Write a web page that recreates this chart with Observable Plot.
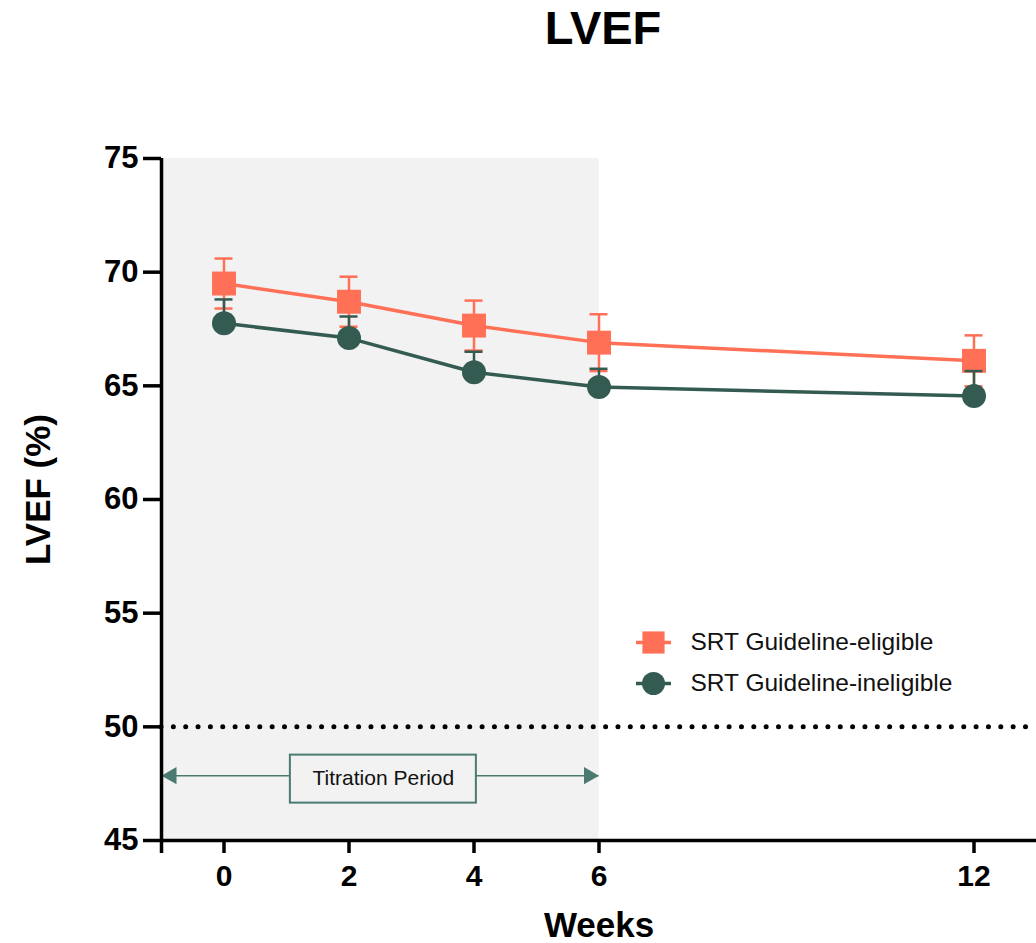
<!DOCTYPE html>
<html>
<head>
<meta charset="utf-8">
<script src="https://cdn.jsdelivr.net/npm/d3@7"></script>
<script src="https://cdn.jsdelivr.net/npm/@observablehq/plot@0.6"></script>
<style>
  html, body { margin: 0; padding: 0; background: #fff; }
  #chart { width: 1036px; height: 943px; }
</style>
</head>
<body>
<div id="chart"></div>
<script>
// ---- data ----
const weeks = [0, 2, 4, 6, 12];
const eligibleMean = [69.5, 68.7, 67.65, 66.9, 66.1];
const eligibleSE = [1.1, 1.1, 1.1, 1.25, 1.12];
const ineligibleMean = [67.75, 67.1, 65.6, 64.95, 64.55];
const ineligibleSE = [1.05, 0.95, 0.9, 0.8, 1.1];
const seriesNames = ["SRT Guideline-eligible", "SRT Guideline-ineligible"];
const yTicks = [45, 50, 55, 60, 65, 70, 75];
const xTicks = [-1, 0, 2, 4, 6, 12];
const thresholdLVEF = [50];
const titrationWeeks = [-1, 6];
const titrationLabel = "Titration Period";
const titrationLabelPos = [{x: 2.55, y: 47.7}];
const titrationArrowY = 47.85;

const ORANGE = "#ff7056";
const GREEN = "#345b51";
const ARROW = "#4b7a71";

const eligible = weeks.map((w, i) => ({week: w, mean: eligibleMean[i], se: eligibleSE[i]}));
const ineligible = weeks.map((w, i) => ({week: w, mean: ineligibleMean[i], se: ineligibleSE[i]}));

const legendLine = {
  draw(ctx, size) { ctx.rect(-17.5, -1.75, 35, 3.5); }
};

const legend = [];
[[seriesNames[0], ORANGE, "square", 484], [seriesNames[1], GREEN, "circle", 525]].forEach(([name, color, sym, dy]) => {
  legend.push(Plot.dot([0], {frameAnchor: "top-left", dx: 492, dy, symbol: legendLine, r: 6, fill: color, stroke: "none"}));
  legend.push(Plot.dot([0], {frameAnchor: "top-left", dx: 492, dy, symbol: sym, r: sym === "square" ? 12.5 : 11.5, fill: color, stroke: "none"}));
  legend.push(Plot.text([name], {frameAnchor: "top-left", dx: 529, dy, text: d => d, fontSize: 24.5, textAnchor: "start", lineAnchor: "middle", fill: "#111"}));
});

const chart = Plot.plot({
  width: 1036,
  height: 943,
  marginLeft: 161,
  marginRight: 0,
  marginTop: 158,
  marginBottom: 103,
  style: {fontFamily: "'Liberation Sans', Arial, sans-serif", background: "#fff", overflow: "visible"},
  x: {domain: [-1, 13], axis: null},
  y: {domain: [45, 75], axis: null},
  marks: [
    // titration shading
    Plot.rect([titrationWeeks], {x1: d => d[0], x2: d => d[1], y1: 45, y2: 75, fill: "#f2f2f2"}),
    // threshold dotted line
    Plot.ruleY(thresholdLVEF, {stroke: "#000", strokeWidth: 5, strokeDasharray: "0,12.35", strokeLinecap: "round"}),
    // titration arrow
    Plot.ruleY([titrationArrowY], {x1: titrationWeeks[0], x2: titrationWeeks[1], stroke: ARROW, strokeWidth: 1.5}),
    Plot.dot([titrationWeeks[0]], {x: d => d, y: titrationArrowY, symbol: "triangle", r: 6.4, rotate: -90, dx: 10, fill: ARROW, stroke: "none"}),
    Plot.dot([titrationWeeks[1]], {x: d => d, y: titrationArrowY, symbol: "triangle", r: 6.4, rotate: 90, dx: -10, fill: ARROW, stroke: "none"}),
    Plot.rect(titrationLabelPos, {x1: "x", x2: "x", y1: "y", y2: "y", insetLeft: -93, insetRight: -93, insetTop: -24, insetBottom: -24, fill: "#f2f2f2", stroke: ARROW, strokeWidth: 2}),
    Plot.text(titrationLabelPos, {x: "x", y: "y", text: () => titrationLabel, fontSize: 21, fill: "#111", dy: -1}),
    // axes
    Plot.ruleY([45], {stroke: "#000", strokeWidth: 3.5}),
    Plot.ruleX([-1], {y1: 45, y2: 75, stroke: "#000", strokeWidth: 3.5}),
    Plot.axisY({ticks: yTicks, tickSize: 18, tickPadding: 5, strokeWidth: 3.5, fontSize: 31, fontWeight: "bold", fill: "#000", label: null}),
    Plot.axisX({ticks: xTicks, tickSize: 13, tickPadding: 11, strokeWidth: 3.5, fontSize: 30, fontWeight: "bold", fill: "#000", tickFormat: d => d < 0 ? "" : String(d), label: null}),
    // eligible series
    Plot.ruleX(eligible, {x: "week", y1: d => d.mean - d.se, y2: d => d.mean + d.se, stroke: ORANGE, strokeWidth: 2.5}),
    Plot.ruleY(eligible, {x1: "week", x2: "week", y: d => d.mean + d.se, insetLeft: -9, insetRight: -9, stroke: ORANGE, strokeWidth: 2.5}),
    Plot.ruleY(eligible, {x1: "week", x2: "week", y: d => d.mean - d.se, insetLeft: -9, insetRight: -9, stroke: ORANGE, strokeWidth: 2.5}),
    Plot.line(eligible, {x: "week", y: "mean", stroke: ORANGE, strokeWidth: 3.5}),
    Plot.dot(eligible, {x: "week", y: "mean", symbol: "square", r: 13.5, fill: ORANGE, stroke: "none"}),
    // ineligible series
    Plot.ruleX(ineligible, {x: "week", y1: "mean", y2: d => d.mean + d.se, stroke: GREEN, strokeWidth: 2.5}),
    Plot.ruleY(ineligible, {x1: "week", x2: "week", y: d => d.mean + d.se, insetLeft: -9, insetRight: -9, stroke: GREEN, strokeWidth: 2.5}),
    Plot.line(ineligible, {x: "week", y: "mean", stroke: GREEN, strokeWidth: 3.5}),
    Plot.dot(ineligible, {x: "week", y: "mean", r: 12, fill: GREEN, stroke: "none"}),
    // titles
    Plot.text(["LVEF"], {frameAnchor: "top", dx: 4, dy: -130, text: d => d, fontSize: 47, fontWeight: "bold", fill: "#000", lineAnchor: "middle"}),
    Plot.text(["LVEF (%)"], {frameAnchor: "left", dx: -123, dy: -10, rotate: -90, text: d => d, fontSize: 35, fontWeight: "bold", fill: "#000", textAnchor: "middle", lineAnchor: "middle"}),
    Plot.text(["Weeks"], {frameAnchor: "bottom", dx: 0, dy: 85, text: d => d, fontSize: 35, fontWeight: "bold", fill: "#000", lineAnchor: "middle"}),
    ...legend
  ]
});
document.getElementById("chart").appendChild(chart);
</script>
</body>
</html>
